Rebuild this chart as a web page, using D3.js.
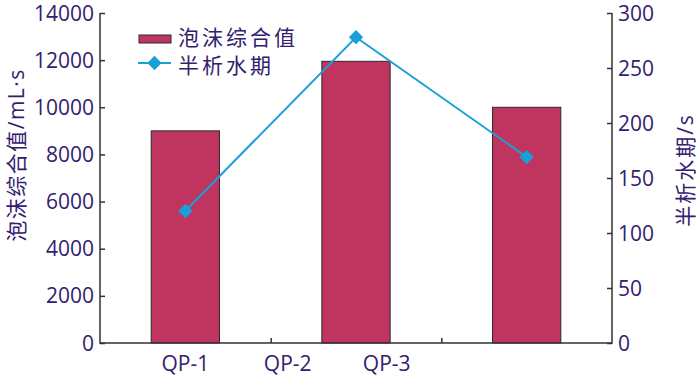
<!DOCTYPE html>
<html><head><meta charset="utf-8">
<script src="https://cdn.jsdelivr.net/npm/d3@7"></script>
<style>body{margin:0;background:#fff}svg{display:block}</style>
</head><body>
<script>
const categories = ["A","B","C"];
const foamValues = [9000, 11950, 10000];
const halfLife = [120, 278, 169];
const xTickLabels = ["QP-1","QP-2","QP-3"];
const xLabelPos = [0.5, 1.1, 1.68];
const leftTicks = [0,2000,4000,6000,8000,10000,12000,14000];
const rightTicks = [0,50,100,150,200,250,300];
const seriesNames = ["泡沫综合值","半析水期"];

const W=700,H=383;
const m={l:100,r:88,t:13,b:40};
const txt="#33206f", axc="#333", barC="#bf3560", lineC="#1aa0d8";
const font="'Open Sans','Noto Sans','Noto Sans CJK SC',sans-serif";
const svg=d3.select("body").append("svg").attr("width",W).attr("height",H)
  .style("font-family",font);

const x=d3.scaleBand().domain(categories).range([m.l,W-m.r]).paddingInner(0).paddingOuter(0);
const xl=d3.scaleLinear().domain([0,categories.length]).range([m.l,W-m.r]);
const yL=d3.scaleLinear().domain([0,14000]).range([H-m.b,m.t]);
const yR=d3.scaleLinear().domain([0,300]).range([H-m.b,m.t]);
const bw=x.bandwidth()*0.4;

// bars
svg.append("g").selectAll("rect").data(foamValues).join("rect")
  .attr("x",(d,i)=>x(categories[i])+x.bandwidth()/2-bw/2)
  .attr("y",d=>yL(d)).attr("width",bw).attr("height",d=>yL(0)-yL(d))
  .attr("fill",barC).attr("stroke","#2a2a2a").attr("stroke-width",1);

// axes
const gL=svg.append("g").attr("transform",`translate(${m.l},0)`)
  .call(d3.axisRight(yL).tickValues(leftTicks).tickSize(5).tickFormat(""));
gL.select(".domain").remove();
svg.append("g").selectAll("text").data(leftTicks).join("text")
  .attr("x",m.l-6).attr("y",d=>yL(d)).attr("dy","0.36em").attr("text-anchor","end")
  .attr("fill",txt).attr("font-size",21).text(d=>d);
const gR=svg.append("g").attr("transform",`translate(${W-m.r},0)`)
  .call(d3.axisLeft(yR).tickValues(rightTicks).tickSize(5).tickFormat(""));
gR.select(".domain").remove();
svg.append("g").selectAll("text").data(rightTicks).join("text")
  .attr("x",W-m.r+6).attr("y",d=>yR(d)).attr("dy","0.36em").attr("text-anchor","start")
  .attr("fill",txt).attr("font-size",21).text(d=>d);
const gB=svg.append("g").attr("transform",`translate(0,${H-m.b})`)
  .call(d3.axisTop(xl).tickValues([1,2]).tickSize(5).tickFormat(""));
gB.select(".domain").remove();
svg.selectAll(".tick line").attr("stroke",axc).attr("stroke-width",1.5);
// frame lines
svg.append("path").attr("d",`M${m.l},${m.t}V${H-m.b}H${W-m.r}V${m.t}`)
  .attr("fill","none").attr("stroke",axc).attr("stroke-width",1.5);

svg.append("g").selectAll("text").data(xTickLabels).join("text")
  .attr("x",(d,i)=>xl(xLabelPos[i])).attr("y",H-m.b+20).attr("dy","0.36em")
  .attr("text-anchor","middle").attr("fill",txt).attr("font-size",21).text(d=>d);

// line
const cx=(i)=>x(categories[i])+x.bandwidth()/2;
svg.append("path").datum(halfLife)
  .attr("d",d3.line().x((d,i)=>cx(i)).y(d=>yR(d)))
  .attr("fill","none").attr("stroke",lineC).attr("stroke-width",2);
const diamond=d3.symbol().type(d3.symbolDiamond2).size(130);
svg.append("g").selectAll("path").data(halfLife).join("path")
  .attr("transform",(d,i)=>`translate(${cx(i)},${yR(d)})`)
  .attr("d",diamond).attr("fill",lineC);

// axis titles
svg.append("text").attr("transform",`translate(24,155) rotate(-90)`)
  .attr("text-anchor","middle").attr("fill",txt).attr("font-size",21)
  .attr("letter-spacing",1.5).text(seriesNames[0]+"/mL·s");
svg.append("text").attr("transform",`translate(693,170) rotate(-90)`)
  .attr("text-anchor","middle").attr("fill",txt).attr("font-size",21)
  .attr("letter-spacing",2).text(seriesNames[1]+"/s");

// legend
const lg=svg.append("g");
lg.append("rect").attr("x",139).attr("y",35).attr("width",32).attr("height",8)
  .attr("fill",barC).attr("stroke","#2a2a2a").attr("stroke-width",1);
lg.append("text").attr("x",178).attr("y",37).attr("dy","0.36em").attr("fill",txt)
  .attr("font-size",21).attr("letter-spacing",3).text(seriesNames[0]);
lg.append("line").attr("x1",138).attr("x2",171).attr("y1",63).attr("y2",63)
  .attr("stroke",lineC).attr("stroke-width",2);
lg.append("path").attr("transform","translate(154.5,63)").attr("d",diamond).attr("fill",lineC);
lg.append("text").attr("x",178).attr("y",65).attr("dy","0.36em").attr("fill",txt)
  .attr("font-size",21).attr("letter-spacing",3).text(seriesNames[1]);
</script>
</body></html>
